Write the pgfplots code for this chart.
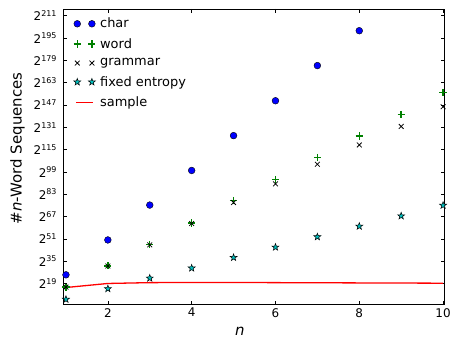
\documentclass[border=0pt]{standalone}
\usepackage{fontspec}
\setmainfont{DejaVu Sans}
\usepackage{pgfplots}
\pgfplotsset{compat=1.18}
\usetikzlibrary{calc}
\definecolor{mplblue}{rgb}{0,0,1}
\definecolor{mplgreen}{rgb}{0,0.5,0}
\definecolor{mplcyan}{rgb}{0,0.75,0.75}
\definecolor{mplred}{rgb}{1,0,0}
\pgfdeclareplotmark{fstar}{%
  \pgfpathmoveto{\pgfpointpolar{90}{\pgfplotmarksize}}%
  \pgfpathlineto{\pgfpointpolar{126}{0.4\pgfplotmarksize}}%
  \pgfpathlineto{\pgfpointpolar{162}{\pgfplotmarksize}}%
  \pgfpathlineto{\pgfpointpolar{198}{0.4\pgfplotmarksize}}%
  \pgfpathlineto{\pgfpointpolar{234}{\pgfplotmarksize}}%
  \pgfpathlineto{\pgfpointpolar{270}{0.4\pgfplotmarksize}}%
  \pgfpathlineto{\pgfpointpolar{306}{\pgfplotmarksize}}%
  \pgfpathlineto{\pgfpointpolar{342}{0.4\pgfplotmarksize}}%
  \pgfpathlineto{\pgfpointpolar{18}{\pgfplotmarksize}}%
  \pgfpathlineto{\pgfpointpolar{54}{0.4\pgfplotmarksize}}%
  \pgfpathclose
  \pgfusepathqfillstroke}
\pgfplotsset{
  marklegend/.style={legend image code/.code={\draw[##1] plot[only marks] coordinates {(0pt,0pt) (14.7pt,0pt)}; \path[draw=none,fill=none] (0pt,0pt) -- (21pt,0pt);}},
  linelegend/.style={legend image code/.code={\draw[##1] (-1pt,0pt) -- (15.7pt,0pt); \path[draw=none,fill=none] (0pt,0pt) -- (21pt,0pt);}},
}
\begin{document}
\begin{tikzpicture}
\begin{axis}[
  name=ax,
  scale only axis,
  width=383.4pt, height=297pt,
  xmin=0.93, xmax=10.04,
  ymin=3.8, ymax=215.8,
  xtick={2,4,6,8,10},
  ytick={19,35,51,67,83,99,115,131,147,163,179,195,211},
  yticklabels={2\textsuperscript{19},2\textsuperscript{35},2\textsuperscript{51},2\textsuperscript{67},2\textsuperscript{83},2\textsuperscript{99},2\textsuperscript{115},2\textsuperscript{131},2\textsuperscript{147},2\textsuperscript{163},2\textsuperscript{179},2\textsuperscript{195},2\textsuperscript{211}},
  /pgf/number format/assume math mode=true,
  tick align=inside,
  major tick length=4pt,
  tick style={black, line width=0.5pt},
  axis line style={line width=0.8pt},
  tick label style={font=\fontsize{12}{14}\selectfont},
  yticklabel style={xshift=-2.5pt},
  xlabel={\textit{n}},
  ylabel={\#\textit{n}-Word Sequences},
  label style={font=\fontsize{15}{17}\selectfont},
  xlabel style={at={(axis description cs:0.4635,0)}, anchor=center, yshift=-27pt},
  ylabel style={at={(axis description cs:-0.1195,0.5286)}, anchor=center},
  clip=false,
  legend style={at={(axis description cs:0,1)}, anchor=north west, draw=none, fill=none,
    font=\fontsize{13}{15}\selectfont, row sep=5pt, xshift=7.5pt, yshift=-5pt,
    legend cell align=left},
]
\addplot[only marks, mark=*, mark size=3.4pt, mark options={fill=mplblue, draw=black, line width=0.4pt}, marklegend]
  coordinates {(1,25.2)(2,50.2)(3,75.2)(4,100)(5,125)(6,150)(7,175.2)(8,200.2)};
\addlegendentry{char}
\addplot[only marks, mark=+, mark size=3.6pt, mark options={draw=mplgreen, line width=1.4pt}, marklegend]
  coordinates {(1,16.4)(2,31.6)(3,46.9)(4,62.4)(5,78.5)(6,93.6)(7,109.3)(8,124.7)(9,140.2)(10,156)};
\addlegendentry{word}
\addplot[only marks, mark=x, mark size=3.4pt, mark options={draw=black, line width=0.8pt}, marklegend]
  coordinates {(1,16.4)(2,31.5)(3,46.7)(4,62)(5,77)(6,90.4)(7,104.5)(8,118.3)(9,131.6)(10,145.7)};
\addlegendentry{grammar}
\addplot[only marks, mark=fstar, mark size=3.7pt, mark options={fill=mplcyan, draw=black, line width=0.5pt}, marklegend]
  coordinates {(1,7.6)(2,15.2)(3,22.8)(4,30)(5,37.6)(6,45)(7,52.4)(8,60)(9,67.4)(10,75)};
\addlegendentry{fixed entropy}
\addplot[mplred, line width=1.3pt, no marks, linelegend]
  coordinates {(1,16.1)(2,19)(3,19.6)(4,19.7)(5,19.7)(6,19.6)(7,19.5)(8,19.4)(9,19.3)(10,19.2)};
\addlegendentry{sample}
\end{axis}
\path[use as bounding box] ($(ax.south west)+(-63.3pt,-34pt)$) rectangle ($(ax.north east)+(7.3pt,9pt)$);
\end{tikzpicture}
\end{document}
